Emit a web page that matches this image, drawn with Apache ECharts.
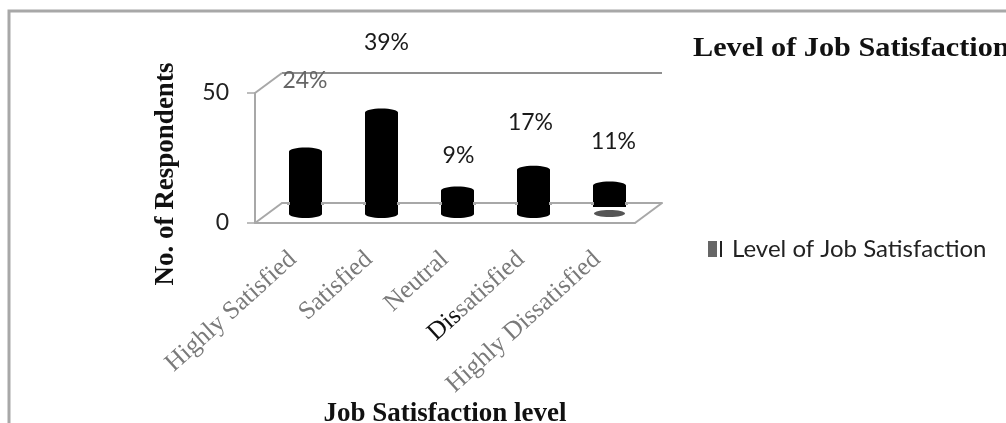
<!DOCTYPE html>
<html><head><meta charset="utf-8">
<style>html,body{margin:0;padding:0;background:#fff}#c{width:1006px;height:423px}</style>
<script src="https://cdn.jsdelivr.net/npm/echarts@6/dist/echarts.min.js"></script>
</head><body><div id="c"></div>
<script>
const categories = ['Highly Satisfied','Satisfied','Neutral','Dissatisfied','Highly Dissatisfied'];
const values = [24,39,9,17,11];
const percentLabels = ['24%','39%','9%','17%','11%'];
const yTicks = [0,50];
const seriesName = 'Level of Job Satisfaction';
// layout only: distance in px from bar top to its percent label, and horizontal nudge
const labelLift = [70.6,69.6,34.6,46.8,43.4];
const labelShift = [-0.5,5,1,-3,4];

const chart = echarts.init(document.getElementById('c'),null,{renderer:'canvas'});
const gray='#a8a8a8';
const F='Lato';
const S='Liberation Serif';
const swatch={type:'linear',x:0,y:0,x2:1,y2:0,colorStops:[
  {offset:0,color:'#666'},{offset:0.47,color:'#666'},{offset:0.47,color:'#fff'},{offset:0.63,color:'#fff'},
  {offset:0.63,color:'#222'},{offset:0.74,color:'#222'},{offset:0.74,color:'#fff'},{offset:1,color:'#fff'}]};
chart.setOption({
  animation:false,
  backgroundColor:'#fff',
  legend:{show:true,left:703,top:232,itemWidth:19,itemHeight:16,itemGap:4,
    data:[{name:seriesName,icon:'rect',itemStyle:{color:swatch}}],
    textStyle:{fontFamily:F,fontSize:24,color:'#222'}},
  grid:[
    {left:255,width:380,top:93,height:130,outerBoundsMode:'none',containLabel:false},
    {left:282,width:380,top:73,height:130,outerBoundsMode:'none',containLabel:false},
    {left:267.5,width:380,top:84,height:130,outerBoundsMode:'none',containLabel:false}
  ],
  xAxis:[
    {gridIndex:0,type:'category',data:categories,
      axisLine:{lineStyle:{color:gray,width:2}},
      axisTick:{length:7,lineStyle:{color:gray,width:1.5},alignWithLabel:false},
      axisLabel:{interval:0,rotate:42,margin:33,fontFamily:S,fontSize:25.5,color:'#7a7a7a',
        formatter:v=>v==='Dissatisfied'?'{d|Dis}{s|satisfied}':v,
        rich:{d:{fontFamily:S,fontSize:25.5,color:'#111'},s:{fontFamily:S,fontSize:25.5,color:'#7a7a7a'}}},
      name:'Job Satisfaction level',nameLocation:'middle',nameGap:162,
      nameTextStyle:{fontFamily:S,fontWeight:'bold',fontSize:27,color:'#111'}},
    {gridIndex:1,type:'category',data:categories,axisLabel:{show:false},axisTick:{show:false},
      axisLine:{lineStyle:{color:gray,width:2}}},
    {gridIndex:2,type:'category',data:categories,show:false}
  ],
  yAxis:[
    {gridIndex:0,type:'value',min:0,max:50,interval:50,
      axisLine:{show:true,lineStyle:{color:gray,width:2}},
      axisTick:{show:true,length:8,lineStyle:{color:gray,width:1.5}},
      splitLine:{show:false},
      axisLabel:{fontFamily:F,fontSize:23,color:'#222',margin:26,formatter:v=>yTicks.includes(v)?String(v):''},
      name:'No. of Respondents',nameLocation:'middle',nameGap:75,nameRotate:90,
      nameTextStyle:{fontFamily:S,fontWeight:'bold',fontSize:27,color:'#111',padding:[0,32,0,0]}},
    {gridIndex:1,type:'value',min:0,max:50,interval:50,axisLabel:{show:false},axisLine:{show:false},axisTick:{show:false},
      splitLine:{show:true,lineStyle:{color:'#8f8f8f',width:2}}},
    {gridIndex:2,type:'value',min:0,max:50,show:false}
  ],
  graphic:[
    {type:'rect',silent:true,z:-1,shape:{x:9,y:11,width:1100,height:500},style:{fill:'none',stroke:'#a8a8a8',lineWidth:3}},
    {type:'line',z:1,shape:{x1:255,y1:93,x2:282,y2:73},style:{stroke:gray,lineWidth:2}},
    {type:'line',z:1,shape:{x1:255,y1:223,x2:282,y2:203},style:{stroke:gray,lineWidth:2}},
    {type:'line',z:1,shape:{x1:635,y1:223,x2:662,y2:203},style:{stroke:gray,lineWidth:2}},
    {type:'text',x:693,y:49,scaleX:1.12,style:{text:'Level of Job Satisfaction',fontFamily:S,fontWeight:'bold',fontSize:27,fill:'#111',align:'left',verticalAlign:'middle'}}
  ],
  series:[{
    type:'custom',name:seriesName,coordinateSystem:'cartesian2d',xAxisIndex:2,yAxisIndex:2,
    clip:false,z:5,
    itemStyle:{color:'#000'},
    data:values.map((v,i)=>[i,v]),
    renderItem(params,api){
      const i=api.value(0);
      const top=api.coord([i,api.value(1)]);
      const base=api.coord([i,0]);
      const w=33,rx=w/2,ry=4;
      const cx=top[0];
      const kids=[
        {type:'rect',shape:{x:cx-rx,y:top[1],width:w,height:base[1]-top[1]},style:{fill:'#000'}},
        {type:'ellipse',shape:{cx,cy:top[1],rx,ry},style:{fill:'#000'}},
        {type:'ellipse',shape:{cx,cy:base[1],rx,ry},style:{fill:'#000'}},
        {type:'rect',shape:{x:cx-rx-2,y:202,width:3,height:3},style:{fill:gray}},
        {type:'rect',shape:{x:cx+rx-1,y:202,width:3,height:3},style:{fill:gray}},
        {type:'text',x:cx+labelShift[i],y:top[1]-labelLift[i],
          style:{text:percentLabels[i],fontFamily:F,fontSize:23,fill:i===0?'#666':'#1a1a1a',align:'center',verticalAlign:'middle'}}
      ];
      if(i===values.length-1){
        kids.push({type:'rect',shape:{x:cx-rx-1,y:207,width:w+2,height:13},style:{fill:'#fff'}});
        kids.push({type:'ellipse',shape:{cx,cy:213.5,rx:rx-1,ry:3.5},style:{fill:'#555'}});
      }
      return {type:'group',children:kids};
    }
  }]
});
</script></body></html>
